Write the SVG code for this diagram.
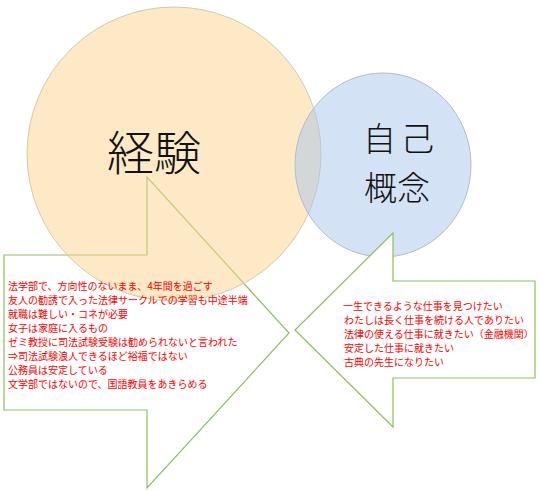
<svg xmlns="http://www.w3.org/2000/svg" width="541" height="491" viewBox="0 0 541 491">
<style>
.callout{fill:#ffffff;stroke:#8fbf5c;stroke-width:1.2}
.big{font-family:"Noto Sans CJK JP","Noto Sans CJK SC",sans-serif;font-weight:300;fill:#111111}
.note{font-family:"Noto Sans CJK JP","Noto Sans CJK SC",sans-serif;font-size:10px;fill:#ff0000}
</style>
<rect width="541" height="491" fill="#ffffff"/>
<g id="callout-experience">
<polygon class="callout" points="147,177 147,255 4,255 4,410 147,410 147,488 289,333"/>
</g>
<g id="circle-experience">
<circle cx="174" cy="154" r="147" fill="#fbd48c" fill-opacity="0.5" stroke="#d2c9b2" stroke-width="1"/>
</g>
<g id="circle-selfconcept">
<ellipse cx="383" cy="165" rx="88" ry="92" fill="#aac6ec" fill-opacity="0.5" stroke="#b3bccb" stroke-width="1"/>
</g>
<g id="callout-selfconcept">
<polygon class="callout" points="393,233 393,281 535,281 535,378 393,378 393,427 295,330"/>
</g>
<g id="connectors"/>
<g id="label-experience">
<text class="big" x="154" y="170" font-size="47" text-anchor="middle">経験</text>
</g>
<g id="label-selfconcept">
<text class="big" x="401" y="151" font-size="33" text-anchor="middle" letter-spacing="5">自己</text>
<text class="big" x="397" y="200" font-size="33" text-anchor="middle">概念</text>
</g>
<g id="text-experience">
<text class="note" x="8" y="289.5">法学部で、方向性のないまま、4年間を過ごす</text>
<text class="note" x="8" y="303.5">友人の勧誘で入った法律サークルでの学習も中途半端</text>
<text class="note" x="8" y="317.5">就職は難しい・コネが必要</text>
<text class="note" x="8" y="331.5">女子は家庭に入るもの</text>
<text class="note" x="8" y="345.5">ゼミ教授に司法試験受験は勧められないと言われた</text>
<text class="note" x="8" y="359.5">⇒司法試験浪人できるほど裕福ではない</text>
<text class="note" x="8" y="373.5">公務員は安定している</text>
<text class="note" x="8" y="387.5">文学部ではないので、国語教員をあきらめる</text>
</g>
<g id="text-selfconcept">
<text class="note" x="343" y="310">一生できるような仕事を見つけたい</text>
<text class="note" x="344" y="324">わたしは長く仕事を続ける人でありたい</text>
<text class="note" x="344" y="338">法律の使える仕事に就きたい（金融機関）</text>
<text class="note" x="344" y="352">安定した仕事に就きたい</text>
<text class="note" x="344" y="366">古典の先生になりたい</text>
</g>
</svg>
